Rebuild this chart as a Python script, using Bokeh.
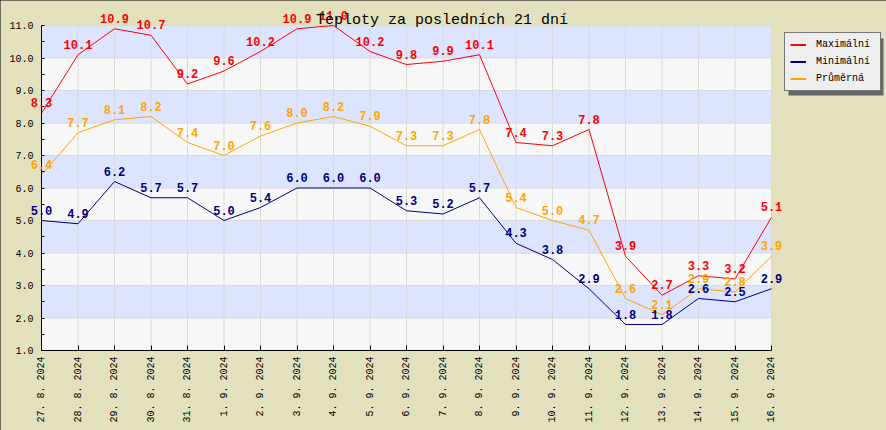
import math
from bokeh.plotting import figure
from bokeh.models import (ColumnDataSource, LabelSet, Label, Legend, LegendItem,
                          FixedTicker, Range1d, BoxAnnotation, PrintfTickFormatter)
from bokeh.core.properties import value
from bokeh.embed import file_html
from bokeh.resources import INLINE

dates = ["27. 8. 2024", "28. 8. 2024", "29. 8. 2024", "30. 8. 2024", "31. 8. 2024",
         "1. 9. 2024", "2. 9. 2024", "3. 9. 2024", "4. 9. 2024", "5. 9. 2024",
         "6. 9. 2024", "7. 9. 2024", "8. 9. 2024", "9. 9. 2024", "10. 9. 2024",
         "11. 9. 2024", "12. 9. 2024", "13. 9. 2024", "14. 9. 2024", "15. 9. 2024",
         "16. 9. 2024"]
t_max = [8.3, 10.1, 10.9, 10.7, 9.2, 9.6, 10.2, 10.9, 11.0, 10.2, 9.8, 9.9, 10.1,
         7.4, 7.3, 7.8, 3.9, 2.7, 3.3, 3.2, 5.1]
t_min = [5.0, 4.9, 6.2, 5.7, 5.7, 5.0, 5.4, 6.0, 6.0, 6.0, 5.3, 5.2, 5.7,
         4.3, 3.8, 2.9, 1.8, 1.8, 2.6, 2.5, 2.9]
t_avg = [6.4, 7.7, 8.1, 8.2, 7.4, 7.0, 7.6, 8.0, 8.2, 7.9, 7.3, 7.3, 7.8,
         5.4, 5.0, 4.7, 2.6, 2.1, 2.9, 2.8, 3.9]
y_ticks = [1, 2, 3, 4, 5, 6, 7, 8, 9, 10, 11]
series_names = ["Maximální", "Minimální", "Průměrná"]
series_colors = ["#FF0000", "#000080", "#FFA500"]
title_text = "Teploty za posledních 21 dní"

FONT = "Liberation Mono"
W, H = 886, 430
# pixel geometry of the plotting area inside the canvas
PL, PR, PT, PB = 41, 771, 25, 350

x = list(range(len(dates)))
x0, x1 = x[0], x[-1]
y0, y1 = y_ticks[0], y_ticks[-1]
sx = (PR - PL) / (x1 - x0)
sy = (PB - PT) / (y1 - y0)

p = figure(width=W, height=H, output_backend="svg", toolbar_location=None,
           x_range=Range1d(x0 - PL / sx, x1 + (W - PR) / sx),
           y_range=Range1d(y0 - (H - PB) / sy, y1 + PT / sy),
           min_border=0)
p.styles = {"outline": "1px solid black", "outline-offset": "-1px"}
p.border_fill_color = "#E2E0BD"
p.background_fill_color = "#E2E0BD"
p.outline_line_color = None
p.xgrid.visible = False
p.ygrid.visible = False

# plot area background and bands
p.quad(left=x0, right=x1, bottom=y0, top=y1, fill_color="#F7F7F7", line_color=None)
band_b = y_ticks[1:-1:2]
band_t = y_ticks[2::2]
p.quad(left=x0, right=x1, bottom=band_b, top=band_t, fill_color="#DDE4FF",
       line_color=None)
# grid lines
p.segment(x0=x, x1=x, y0=y0, y1=y1, line_color="#DADADA", line_width=1)
p.segment(x0=x0, x1=x1, y0=y_ticks, y1=y_ticks, line_color="#DADADA", line_width=1)

# axes
p.xaxis.ticker = FixedTicker(ticks=x)
p.xaxis.major_label_overrides = {i: d for i, d in enumerate(dates)}
p.xaxis.major_label_orientation = math.pi / 2
p.xaxis.fixed_location = y0
p.xaxis.bounds = (x0, x1)
p.yaxis.ticker = FixedTicker(ticks=y_ticks,
                             minor_ticks=[t + 0.5 for t in y_ticks[:-1]])
p.yaxis.formatter = PrintfTickFormatter(format="%.1f")
p.yaxis.fixed_location = x0
p.yaxis.bounds = (y0, y1)
for ax in (p.xaxis, p.yaxis):
    ax.axis_line_color = "black"
    ax.axis_line_width = 1
    ax.major_tick_line_color = "black"
    ax.minor_tick_line_color = "black"
    ax.major_tick_out = 0
    ax.minor_tick_out = 0
    ax.major_label_text_font = FONT
    ax.major_label_text_font_size = "10px"
    ax.major_label_text_color = "black"
p.xaxis.major_tick_in = 5
p.xaxis.minor_tick_line_color = None
p.xaxis.major_label_standoff = 6
p.yaxis.major_tick_in = 3
p.yaxis.minor_tick_in = 3
p.yaxis.major_label_standoff = 8

# lines
series = [t_max, t_min, t_avg]
for vals, col in zip(series, series_colors):
    p.line(x, vals, line_color=col, line_width=1)

# legend (thicker sample lines, from hidden renderers)
items = []
for name, vals, col in zip(series_names, series, series_colors):
    r = p.line(x, vals, line_color=col, line_width=2, visible=False)
    items.append(LegendItem(label=name, renderers=[r]))

LX, LY, LW, LH = 784, 34, 95, 57
shadow = BoxAnnotation(left=LX + 4, right=LX + LW + 4,
                       bottom=H - (LY + LH + 4), top=H - (LY + 4),
                       left_units="screen", right_units="screen",
                       top_units="screen", bottom_units="screen",
                       fill_color="#666666", fill_alpha=1, line_color=None)
p.add_layout(shadow)

legend = Legend(items=items, location=(LX, H - (LY + LH)), padding=5, margin=0,
                spacing=4, glyph_width=16, glyph_height=13, label_height=13,
                label_width=59, label_standoff=10,
                label_text_font=FONT, label_text_font_size="10px",
                label_text_color="black",
                border_line_color="black", border_line_width=1,
                background_fill_color="#EEEEEE", background_fill_alpha=1)
p.add_layout(legend)

# data labels
for vals, col in zip(series, series_colors):
    src = ColumnDataSource(dict(x=x, y=vals, t=["%.1f" % v for v in vals]))
    p.add_layout(LabelSet(x="x", y="y", text="t", source=src,
                          text_color=col, text_font=value(FONT),
                          text_font_size="12px", text_font_style="bold",
                          text_align="center", text_baseline="alphabetic",
                          y_offset=6))

p.add_layout(Label(x=W / 2 - 1.5, y=H - 19.5, x_units="screen", y_units="screen",
                   text=title_text, text_font=FONT, text_font_size="15px",
                   text_color="black", text_align="center",
                   text_baseline="alphabetic"))

open("out.html", "w").write(file_html(p, INLINE))
